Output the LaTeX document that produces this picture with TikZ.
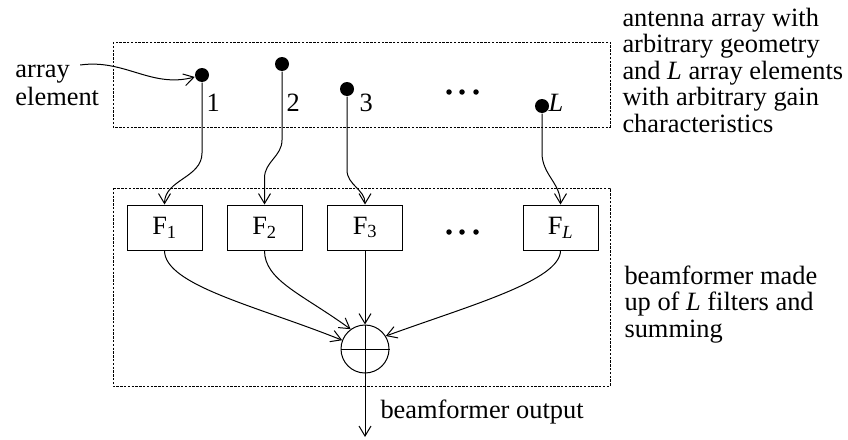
\documentclass[tikz,border=0pt]{standalone}
\usepackage{fontspec}
\setmainfont{Liberation Serif}
\usetikzlibrary{arrows.meta}
\begin{document}
\begin{tikzpicture}[x=1pt,y=1pt,
  line width=1pt,
  every node/.style={font=\fontsize{26.4}{26.5}\selectfont},
  grp/.style={draw, dash pattern=on 2.4pt off 1.4pt, line width=0.8pt},
  elem/.style={circle, fill, inner sep=0pt, minimum size=14pt},
  filt/.style={draw, minimum width=75pt, minimum height=45pt, inner sep=0pt},
  sumnode/.style={circle, draw, minimum size=48pt, inner sep=0pt},
  sig/.style={-{Straight Barb[length=10pt,width=12pt]}},
  pip/.style={circle, fill, inner sep=0pt, minimum size=5.5pt},
  lbl/.style={anchor=base west, inner sep=0pt},
  note/.style={anchor=base west, inner sep=0pt, align=left},
]
\useasboundingbox (0,0) rectangle (848,-439);

% group outlines: antenna array and beamformer
\draw[grp] (113,-42) rectangle (610,-127);
\draw[grp] (113,-188) rectangle (610,-386);

% array elements
\node[elem] (e1) at (202,-75) {};
\node[elem] (e2) at (282,-64) {};
\node[elem] (e3) at (347,-89) {};
\node[elem] (eL) at (542,-106) {};
\node[lbl] (n1) at (206,-111) {1};
\node[lbl] (n2) at (286,-111) {2};
\node[lbl] (n3) at (359,-111) {3};
\node[lbl] (nL) at (548,-111) {\textit{L}};
\node[pip] (a1) at (449,-92) {};
\node[pip] (a2) at (462,-92) {};
\node[pip] (a3) at (476,-92) {};

% filters
\node[filt] (F1) at (164.5,-227.5) {F\textsubscript{1}};
\node[filt] (F2) at (264.5,-227.5) {F\textsubscript{2}};
\node[filt] (F3) at (365,-227.5) {F\textsubscript{3}};
\node[filt] (FL) at (560.5,-227.5) {F\textsubscript{\textit{L}}};
\node[pip] (b1) at (449,-232) {};
\node[pip] (b2) at (462,-232) {};
\node[pip] (b3) at (476,-232) {};

% summing junction
\node[sumnode] (S) at (365,-349) {};
\draw (S.north) -- (S.south) (S.west) -- (S.east);
\coordinate (out) at (365,-437);

% element to filter connections
\draw[sig] (e1) -- ++(0,-78) to[out=-90,in=90] (F1.north);
\draw[sig] (e2) -- ++(0,-76) to[out=-90,in=90] ++(-17.5,-38) -- (F2.north);
\draw[sig] (e3) -- ++(0,-81) to[out=-90,in=90] (F3.north);
\draw[sig] (eL) -- ++(0,-47) to[out=-90,in=90] (FL.north);

% filter outputs into the sum
\draw[sig] (F1.south) .. controls +(0,-35) and +(158:90) .. (S.159);
\draw[sig] (F2.south) .. controls +(0,-30) and +(144:60) .. (S.126);
\draw[sig] (F3.south) -- (S.north);
\draw[sig] (FL.south) .. controls +(0,-30) and +(20:90) .. (S.32);
\draw[sig] (S.south) -- (out);

% labels
\node[lbl] (outlbl) at (380,-418) {beamformer output};
\node[lbl] (arr) at (15,-77) {array};
\node[lbl] (elt) at (15,-105) {element};
\draw[sig] ([shift={(10pt,12pt)}]arr.base east) to[out=8,in=195] (e1);
\node[note] (t1) at (622,-132) {antenna array with\\arbitrary geometry\\and \textit{L} array elements\\with arbitrary gain\\characteristics};
\node[note] (t2) at (624,-337) {beamformer made\\up of \textit{L} filters and\\summing};
\end{tikzpicture}
\end{document}
